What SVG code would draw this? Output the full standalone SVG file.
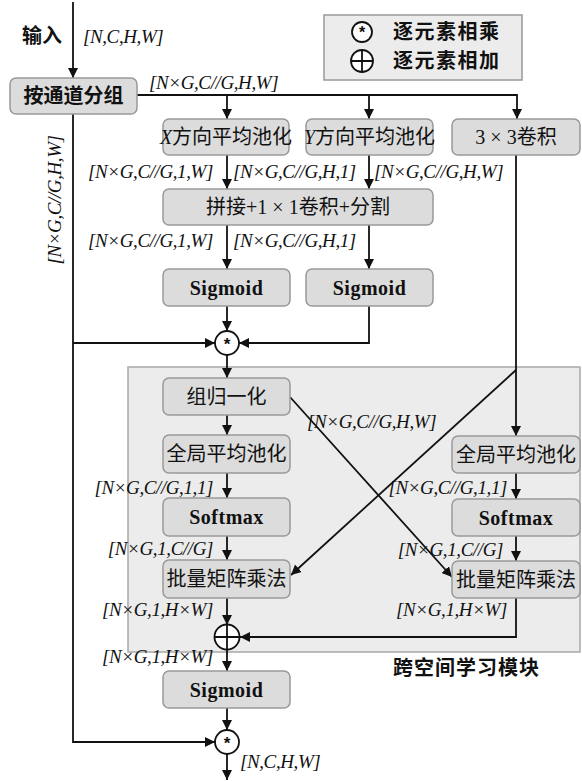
<svg xmlns="http://www.w3.org/2000/svg" width="582" height="781" viewBox="0 0 582 781">
<style>
.bg{fill:#ffffff}
.box{fill:#dcdcdc;stroke:#999;stroke-width:1.5}
.region{fill:#ececec;stroke:#a8a8a8;stroke-width:1.5}
.legend{fill:#ececec;stroke:#999;stroke-width:1.5}
.cn{font-family:"Liberation Serif","Noto Sans CJK SC",serif;font-size:20px;fill:#111;text-anchor:middle;dominant-baseline:central}
.cnb{font-family:"Liberation Serif","Noto Sans CJK SC",serif;font-size:20px;font-weight:bold;fill:#111}
.en{font-family:"Liberation Serif",serif;font-size:20px;font-weight:bold;fill:#111;text-anchor:middle;dominant-baseline:central;letter-spacing:0.5px}
.lbl{font-family:"Liberation Serif",serif;font-size:19px;font-style:italic;fill:#111;letter-spacing:-0.4px}
.end{text-anchor:end}
.ln{fill:none;stroke:#111;stroke-width:1.8}
.arr{marker-end:url(#ah)}
.op{fill:#fff;stroke:#111;stroke-width:1.8}
</style>
<defs>
<marker id="ah" markerUnits="userSpaceOnUse" markerWidth="11" markerHeight="11" refX="10" refY="5" orient="auto">
<path d="M0,0 L10,5 L0,10 z" fill="#111"/>
</marker>
</defs>
<rect class="bg" x="0" y="0" width="582" height="781"/>

<g id="cross-spatial-region">
<rect class="region" x="128" y="367" width="452" height="285"/>
<text class="cnb" x="393" y="675" font-size="21" letter-spacing="1">跨空间学习模块</text>
</g>

<g id="legend">
<rect class="legend" x="324" y="15" width="198" height="65"/>
<circle class="op" cx="362" cy="32" r="10"/>
<text x="362" y="38" font-family="Liberation Sans,sans-serif" font-size="16" font-weight="bold" text-anchor="middle" fill="#111">*</text>
<circle class="op" cx="362" cy="61" r="11"/>
<path class="ln" d="M351,61 H373 M362,50 V72"/>
<text class="cnb" x="393" y="39" letter-spacing="1.5">逐元素相乘</text>
<text class="cnb" x="393" y="68" letter-spacing="1.5">逐元素相加</text>
</g>

<g id="connectors">
<path class="ln arr" d="M73,2 V78"/>
<path class="ln arr" d="M137,95 H517 V119"/>
<path class="ln arr" d="M227,95 V119"/>
<path class="ln arr" d="M369,95 V119"/>
<path class="ln arr" d="M227,155 V189"/>
<path class="ln arr" d="M369,155 V189"/>
<path class="ln arr" d="M227,225 V269"/>
<path class="ln arr" d="M369,225 V269"/>
<path class="ln arr" d="M227,306 V331"/>
<path class="ln arr" d="M369,306 V343 H239"/>
<path class="ln arr" d="M73,114 V742 H215"/>
<path class="ln arr" d="M73,343 H215"/>
<path class="ln arr" d="M227,355 V378"/>
<path class="ln arr" d="M227,415 V435"/>
<path class="ln arr" d="M227,473 V498"/>
<path class="ln arr" d="M227,536 V560"/>
<path class="ln arr" d="M227,598 V625"/>
<path class="ln arr" d="M516,155 V436"/>
<path class="ln arr" d="M516,473 V499"/>
<path class="ln arr" d="M516,536 V561"/>
<path class="ln arr" d="M516,598 V637 H240"/>
<path class="ln arr" d="M516,370 L291,575"/>
<path class="ln arr" d="M290,397 L452,577"/>
<path class="ln arr" d="M227,650 V671"/>
<path class="ln arr" d="M227,708 V730"/>
<path class="ln arr" d="M227,754 V780"/>
</g>

<g id="labels">
<text class="cnb" x="22" y="43">输入</text>
<text class="lbl" x="83" y="43">[N,C,H,W]</text>
<text class="lbl" x="149" y="89">[N×G,C//G,H,W]</text>
<text class="lbl" text-anchor="middle" transform="translate(61,200) rotate(-90)">[N×G,C//G,H,W]</text>
<text class="lbl end" x="213" y="178">[N×G,C//G,1,W]</text>
<text class="lbl" x="233" y="178">[N×G,C//G,H,1]</text>
<text class="lbl" x="374" y="178">[N×G,C//G,H,W]</text>
<text class="lbl end" x="213" y="247">[N×G,C//G,1,W]</text>
<text class="lbl" x="233" y="247">[N×G,C//G,H,1]</text>
<text class="lbl" x="307" y="428">[N×G,C//G,H,W]</text>
<text class="lbl end" x="213" y="494">[N×G,C//G,1,1]</text>
<text class="lbl end" x="507" y="494">[N×G,C//G,1,1]</text>
<text class="lbl end" x="213" y="555">[N×G,1,C//G]</text>
<text class="lbl end" x="503" y="556">[N×G,1,C//G]</text>
<text class="lbl end" x="213" y="616">[N×G,1,H×W]</text>
<text class="lbl end" x="507" y="616">[N×G,1,H×W]</text>
<text class="lbl end" x="213" y="663">[N×G,1,H×W]</text>
<text class="lbl" x="240" y="768">[N,C,H,W]</text>
</g>

<g id="group-split">
<rect class="box" x="10" y="78" width="127" height="36" rx="6"/>
<text class="cn" x="73.5" y="96" font-weight="bold">按通道分组</text>
</g>
<g id="x-pool">
<rect class="box" x="163" y="119" width="126" height="36" rx="6"/>
<text class="cn" x="226" y="137" font-size="19"><tspan font-style="italic">X</tspan>方向平均池化</text>
</g>
<g id="y-pool">
<rect class="box" x="306" y="119" width="127" height="36" rx="6"/>
<text class="cn" x="369.5" y="137" font-size="19"><tspan font-style="italic">Y</tspan>方向平均池化</text>
</g>
<g id="conv3x3">
<rect class="box" x="452" y="119" width="128" height="36" rx="6"/>
<text class="cn" x="516" y="137">3 × 3卷积</text>
</g>
<g id="concat-conv-split">
<rect class="box" x="163" y="189" width="270" height="36" rx="6"/>
<text class="cn" x="298" y="207">拼接+1 × 1卷积+分割</text>
</g>
<g id="sigmoid-left">
<rect class="box" x="163" y="269" width="127" height="37" rx="6"/>
<text class="en" x="226.5" y="287.5">Sigmoid</text>
</g>
<g id="sigmoid-right">
<rect class="box" x="306" y="269" width="127" height="37" rx="6"/>
<text class="en" x="369.5" y="287.5">Sigmoid</text>
</g>
<g id="mul-1">
<circle class="op" cx="227" cy="343" r="12"/>
<text x="227" y="350" font-family="Liberation Sans,sans-serif" font-size="17" font-weight="bold" text-anchor="middle" fill="#111">*</text>
</g>
<g id="group-norm">
<rect class="box" x="163" y="378" width="127" height="37" rx="6"/>
<text class="cn" x="226.5" y="396.5">组归一化</text>
</g>
<g id="gap-left">
<rect class="box" x="163" y="435" width="127" height="38" rx="6"/>
<text class="cn" x="226.5" y="454">全局平均池化</text>
</g>
<g id="softmax-left">
<rect class="box" x="163" y="498" width="127" height="38" rx="6"/>
<text class="en" x="226.5" y="517">Softmax</text>
</g>
<g id="bmm-left">
<rect class="box" x="163" y="560" width="127" height="38" rx="6"/>
<text class="cn" x="226.5" y="579">批量矩阵乘法</text>
</g>
<g id="gap-right">
<rect class="box" x="452" y="436" width="128" height="37" rx="6"/>
<text class="cn" x="516" y="454.5">全局平均池化</text>
</g>
<g id="softmax-right">
<rect class="box" x="452" y="499" width="128" height="37" rx="6"/>
<text class="en" x="516" y="517.5">Softmax</text>
</g>
<g id="bmm-right">
<rect class="box" x="452" y="561" width="128" height="37" rx="6"/>
<text class="cn" x="516" y="579.5">批量矩阵乘法</text>
</g>
<g id="add">
<circle class="op" cx="227" cy="637" r="12.5"/>
<path class="ln" d="M214.5,637 H239.5 M227,624.5 V649.5"/>
</g>
<g id="sigmoid-bottom">
<rect class="box" x="163" y="671" width="127" height="37" rx="6"/>
<text class="en" x="226.5" y="689.5">Sigmoid</text>
</g>
<g id="mul-2">
<circle class="op" cx="227" cy="742" r="12"/>
<text x="227" y="749" font-family="Liberation Sans,sans-serif" font-size="17" font-weight="bold" text-anchor="middle" fill="#111">*</text>
</g>
</svg>
